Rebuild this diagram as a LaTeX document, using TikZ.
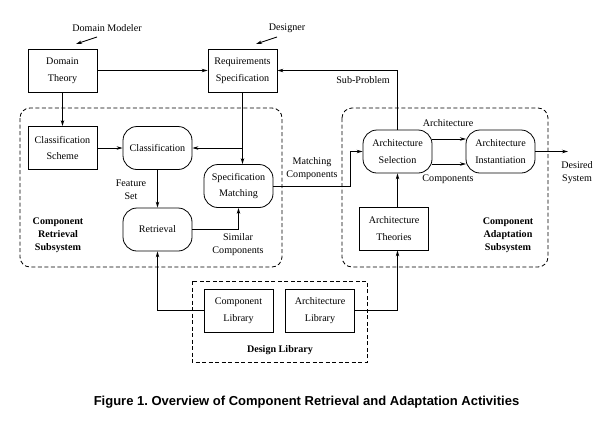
\documentclass[tikz,border=0pt]{standalone}
\usepackage{fontspec}
\setmainfont{Liberation Serif}
\newfontfamily\capfont{Liberation Sans}
\usetikzlibrary{arrows.meta}
\frenchspacing
\begin{document}
\begin{tikzpicture}[x=1pt,y=-1pt,
  font=\fontsize{10.1}{16.5}\selectfont,
  box/.style={draw, line width=0.8pt, minimum width=69pt, minimum height=43pt, inner sep=0pt, align=center},
  proc/.style={box, rounded corners=14pt},
  lbl/.style={align=center, font=\fontsize{10.1}{13}\selectfont, inner sep=0pt},
  blbl/.style={align=center, font=\fontsize{10.1}{13}\selectfont\bfseries, inner sep=0pt},
  arr/.style={line width=0.8pt, -{Stealth[length=6pt,width=3.5pt]}},
  dsh/.style={line width=0.8pt, dash pattern=on 4pt off 2.5pt}]

\useasboundingbox (0,0) rectangle (613,421);

% dashed regions
\draw[dsh, rounded corners=10pt] (20,108) rectangle (282,267);
\draw[dsh, rounded corners=10pt] (342,108) rectangle (548,267);
\draw[dsh] (192,281) rectangle (367,362);

% nodes
\node[box] (dt) at (62.5,70.5) {Domain\\Theory};
\node[box] (rs) at (242.5,70.5) {Requirements\\Specification};
\node[box] (cs) at (62.5,148) {Classification\\Scheme};
\node[proc] (cl) at (157.5,148) {Classification};
\node[proc] (sm) at (238.5,186) {Specification\\Matching};
\node[proc] (rt) at (157.5,229.5) {Retrieval};
\node[proc] (as) at (397.5,151.5) {Architecture\\Selection};
\node[proc] (ai) at (500.5,151.5) {Architecture\\Instantiation};
\node[box] (at) at (394,228.5) {Architecture\\Theories};
\node[box] (cb) at (238.5,310.5) {Component\\Library};
\node[box] (ab) at (320,310.5) {Architecture\\Library};

% labels
\node[lbl] (dm) at (107,28) {Domain Modeler};
\node[lbl] (dg) at (287,28) {Designer};
\node[lbl] (sp) at (363,80) {Sub-Problem};
\node[lbl] (fs) at (131,189.5) {Feature\\Set};
\node[lbl] (sc) at (238,245) {Similar\\Components};
\node[lbl] (mc) at (312,168.5) {Matching\\Components};
\node[lbl] (la) at (448,123) {Architecture};
\node[lbl] (lc) at (448,179) {Components};
\node[lbl] (dsy) at (577,172.5) {Desired\\System};
\node[blbl] (crs) at (58,235) {Component\\Retrieval\\Subsystem};
\node[blbl] (cas) at (508,235) {Component\\Adaptation\\Subsystem};
\node[blbl] (dl) at (280,350) {Design Library};
\node[inner sep=0pt, font=\capfont\fontsize{13}{15}\selectfont\bfseries] (cap) at (306.5,402) {Figure 1. Overview of Component Retrieval and Adaptation Activities};

% actor arrows
\coordinate (dm1) at (97,37);
\coordinate (dm2) at (76,44);
\coordinate (dg1) at (277,37);
\coordinate (dg2) at (256,44);
\draw[arr] (dm1) -- (dm2);
\draw[arr] (dg1) -- (dg2);

% connectors
\draw[arr] (dt.east) -- (rs.west);
\draw[arr] (dt.south) -- (cs.north);
\draw[arr] (cs.east) -- (cl.west);
\draw[arr] (rs.south) -- (rs.south |- sm.north);
\draw[arr] (rs.south |- cl.east) -- (cl.east);
\draw[arr] (cl.south) -- (rt.north);
\draw[arr] (rt.east) -| (sm.south);
\coordinate (mb) at (350,0);
\draw[arr] (sm.east) -| (mb |- as.west) -- (as.west);
\draw[arr] (as.north) |- (rs.east);
\coordinate (a1) at (432,139);
\coordinate (a2) at (466,139);
\coordinate (c1) at (432,164);
\coordinate (c2) at (466,164);
\draw[arr] (a1) -- (a2);
\draw[arr] (c1) -- (c2);
\coordinate (out) at (568,151.5);
\draw[arr] (ai.east) -- (out);
\draw[arr] (as.south |- at.north) -- (as.south);
\draw[arr] (cb.west) -| (rt.south);
\coordinate (atin) at (as.south |- at.south);
\draw[arr] (ab.east) -| (atin);

\end{tikzpicture}
\end{document}
